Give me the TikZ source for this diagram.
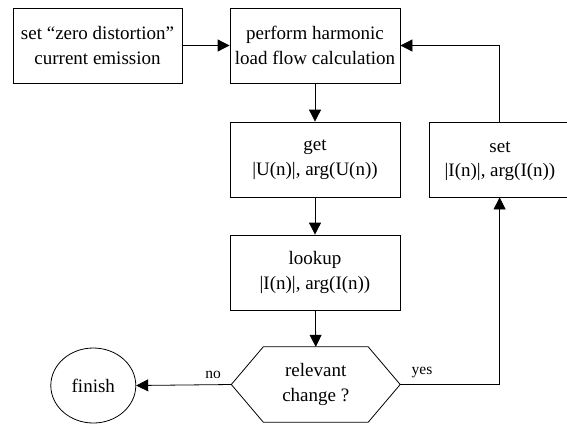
\documentclass[tikz,border=0pt]{standalone}
\usepackage{fontspec}
\setmainfont{Liberation Serif}
\usetikzlibrary{arrows.meta,calc,shapes.geometric}
\begin{document}
\begin{tikzpicture}[x=1pt,y=-1pt,
  box/.style={draw, line width=0.8pt, minimum width=170pt, minimum height=75pt, align=center, inner sep=0pt, font=\fontsize{19}{24.5}\selectfont},
  arr/.style={line width=0.8pt, -{Triangle[length=12pt,width=12pt]}},
  edge/.style={line width=0.8pt},
  lbl/.style={font=\fontsize{15.5}{18}\selectfont, inner sep=1pt}]
\useasboundingbox (0,0) rectangle (567,424);
\clip (0,0) rectangle (567,424);
\node[box, minimum width=169pt] (b1) at (97.5,45.5) {set “zero distortion”\\current emission};
\node[box] (b2) at (315,45.5) {perform harmonic\\load flow calculation};
\node[box] (get) at (315,159.5) {get\\|U(n)|, arg(U(n))};
\node[box] (lookup) at (315,272.5) {lookup\\|I(n)|, arg(I(n))};
\node[box, minimum width=160pt] (set) at (509,159.5) {};
\node[font=\fontsize{19}{24.5}\selectfont, align=center, inner sep=0pt] (settext) at (500,161) {set\\|I(n)|, arg(I(n))};
\coordinate (setbot) at ($(set.south west)+(71,0)$);
\coordinate (settop) at ($(set.north west)+(71,0)$);
\node[minimum width=168.5pt, minimum height=75pt, inner sep=0pt, align=center, font=\fontsize{19}{24.5}\selectfont] (hex) at (315.75,384.5) {relevant\\change ?};
\draw[edge] ($(hex.north west)+(32,0)$) -- ($(hex.north east)+(-32,0)$) -- (hex.east) -- ($(hex.south east)+(-32,0)$) -- ($(hex.south west)+(32,0)$) -- (hex.west) -- cycle;
\node[draw, ellipse, line width=0.8pt, minimum width=85pt, minimum height=75pt, inner sep=0pt, font=\fontsize{19}{24}\selectfont] (fin) at (93.3,385.5) {finish};
\draw[arr] (b1) -- (b2);
\draw[arr] (b2) -- (get);
\draw[arr] (get) -- (lookup);
\draw[arr] (lookup) -- (hex.north);
\draw[arr] (hex.west) -- node[lbl, pos=0.19, above=5pt] (no) {no} (fin.east);
\draw[arr] (hex.east) -| node[lbl, pos=0.11, above=5pt] (yes) {yes} (setbot);
\draw[arr] (settop) |- (b2.east);
\end{tikzpicture}
\end{document}
